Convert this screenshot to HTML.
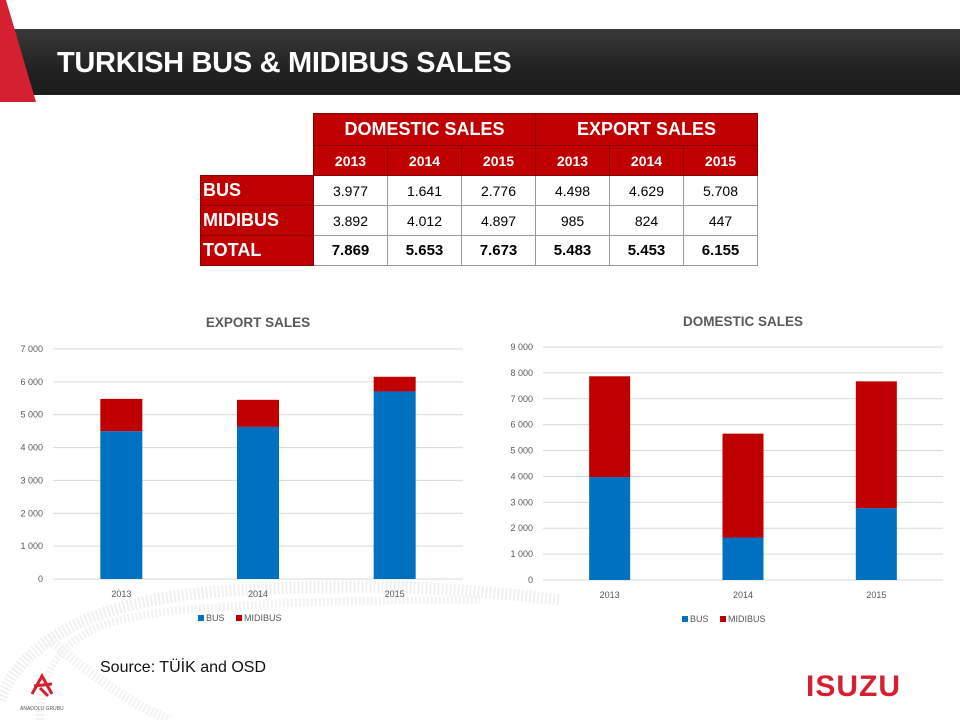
<!DOCTYPE html>
<html><head><meta charset="utf-8"><style>
body{margin:0;width:960px;height:720px;overflow:hidden;background:#fff;font-family:"Liberation Sans",sans-serif;position:relative}
#hdr{position:absolute;left:0;top:29px;width:960px;height:66px;background:linear-gradient(#3a3a3a,#222 60%,#1c1c1c)}
#hdr h1{margin:0;position:absolute;left:57px;top:18px;color:#fff;font-size:29px;font-weight:bold;letter-spacing:-0.3px}
table{position:absolute;left:200px;top:113px;border-collapse:collapse;font-size:14px}
td{border:1px solid #999;text-align:center;padding:0;height:29px;width:73px}
.r{background:#c00000;color:#fff;font-weight:bold;border-color:#8b0000}
.lab{width:110px;text-align:left;font-size:18px;padding-left:2px}
.e{border:none;background:none}
.b{font-weight:bold;font-size:15px}
.src{position:absolute;left:100px;top:659px;font-size:16px;color:#111}
</style></head><body>
<svg width="960" height="720" style="position:absolute;left:0;top:0">
<path d="M0 700 Q40 600 240 590 Q400 580 560 600" stroke="#f0f0f0" stroke-width="12" fill="none" stroke-dasharray="2 2"/>
<path d="M40 720 Q40 640 120 620 Q200 600 480 600" stroke="#f2f2f2" stroke-width="8" fill="none" stroke-dasharray="2 2"/>
<path d="M50 640 Q120 700 170 720" stroke="#f2f2f2" stroke-width="10" fill="none" stroke-dasharray="2 2"/>
</svg>
<div id="hdr"><h1>TURKISH BUS &amp; MIDIBUS SALES</h1></div>
<svg width="40" height="104" style="position:absolute;left:0;top:0"><polygon points="0,0 6,0 36,102 0,102" fill="#d42030"/></svg>
<table>
<tr><td class="e" style="height:32px"></td><td class="r" colspan="3" style="font-size:18px">DOMESTIC SALES</td><td class="r" colspan="3" style="font-size:18px">EXPORT SALES</td></tr>
<tr><td class="e" style="height:28px"></td><td class="r">2013</td><td class="r">2014</td><td class="r">2015</td><td class="r">2013</td><td class="r">2014</td><td class="r">2015</td></tr>
<tr><td class="r lab">BUS</td><td>3.977</td><td>1.641</td><td>2.776</td><td>4.498</td><td>4.629</td><td>5.708</td></tr>
<tr><td class="r lab">MIDIBUS</td><td>3.892</td><td>4.012</td><td>4.897</td><td>985</td><td>824</td><td>447</td></tr>
<tr><td class="r lab">TOTAL</td><td class="b">7.869</td><td class="b">5.653</td><td class="b">7.673</td><td class="b">5.483</td><td class="b">5.453</td><td class="b">6.155</td></tr>
</table>
<svg id="c1" width="960" height="720" style="position:absolute;left:0;top:0"></svg>
<div class="src">Source: TÜİK and OSD</div>
<svg width="60" height="50" style="position:absolute;left:18px;top:670px"><path d="M14 24 L24 6 L34 24 M16 16 L34 14 M22 18 L30 26" stroke="#d42030" stroke-width="3" fill="none"/><text x="2" y="40" font-size="5" fill="#555">ANADOLU GRUBU</text></svg>
<div style="position:absolute;left:806px;top:670px;color:#d42030;font-weight:bold;font-size:30px;letter-spacing:1px;font-family:'Liberation Sans',sans-serif">ISUZU</div>
<script>
const categories=["2013","2014","2015"];
const exportBus=[4498,4629,5708];
const exportMidi=[985,824,447];
const domBus=[3977,1641,2776];
const domMidi=[3892,4012,4897];
const exportTicks=[0,1000,2000,3000,4000,5000,6000,7000];
const domTicks=[0,1000,2000,3000,4000,5000,6000,7000,8000,9000];
const NS="http://www.w3.org/2000/svg";
const svg=document.getElementById('c1');
function mk(t,a,txt){const e=document.createElementNS(NS,t);for(const k in a)e.setAttribute(k,a[k]);if(txt!==undefined)e.textContent=txt;svg.appendChild(e);return e;}
function fmt(v){return v>=1000?Math.floor(v/1000)+" "+String(v%1000).padStart(3,"0"):String(v);}
function chart(cfg){
  const y=v=>cfg.y0-(v/cfg.max)*(cfg.y0-cfg.yTop);
  const cw=(cfg.x1-cfg.x0)/categories.length;
  const x=i=>cfg.x0+cw*i+cw/2;
  const t=mk('text',{x:(cfg.x0+cfg.x1)/2,y:cfg.y0-cfg.titleOff,'text-anchor':'middle','font-size':13.5,'font-weight':'bold',fill:'#595959'},cfg.title);
  
  
  cfg.ticks.forEach(v=>{
    const l=mk('line',{x1:cfg.x0,x2:cfg.x1,y1:y(v),y2:y(v),stroke:'#d9d9d9','stroke-width':1});
    
    
    const tx=mk('text',{x:cfg.x0-10,y:y(v)+3,'text-anchor':'end','font-size':9,fill:'#595959'},fmt(v));
    
    
  });
  categories.forEach((c,i)=>{
    const b=cfg.bus[i],m=cfg.midi[i];
    const r1=mk('rect',{x:x(i)-cfg.bw/2,y:y(b),width:cfg.bw,height:y(0)-y(b),fill:'#0070c0'});
    
    
    const r2=mk('rect',{x:x(i)-cfg.bw/2,y:y(b+m),width:cfg.bw,height:y(b)-y(b+m),fill:'#c00000'});
    
    
    const tx=mk('text',{x:x(i),y:cfg.y0+18,'text-anchor':'middle','font-size':9,fill:'#595959'},c);
    
    
  });
  const lx=cfg.legX,ly=cfg.y0+42;
  const a=mk('rect',{x:lx,y:ly-6,width:6,height:6,fill:'#0070c0'});
  
  
  const at=mk('text',{x:lx+8,y:ly,'font-size':9,fill:'#595959'},'BUS');
  
  
  const b2=mk('rect',{x:lx+38,y:ly-6,width:6,height:6,fill:'#c00000'});
  
  
  const bt=mk('text',{x:lx+46,y:ly,'font-size':9,fill:'#595959'},'MIDIBUS');
  
  
}
chart({name:'export',title:'EXPORT SALES',x0:53,x1:463,y0:579,yTop:349,max:7000,ticks:exportTicks,bus:exportBus,midi:exportMidi,bw:42,titleOff:252,legX:198});
chart({name:'domestic',title:'DOMESTIC SALES',x0:543,x1:943,y0:580,yTop:347,max:9000,ticks:domTicks,bus:domBus,midi:domMidi,bw:41,titleOff:254,legX:682});
</script>
</body></html>
